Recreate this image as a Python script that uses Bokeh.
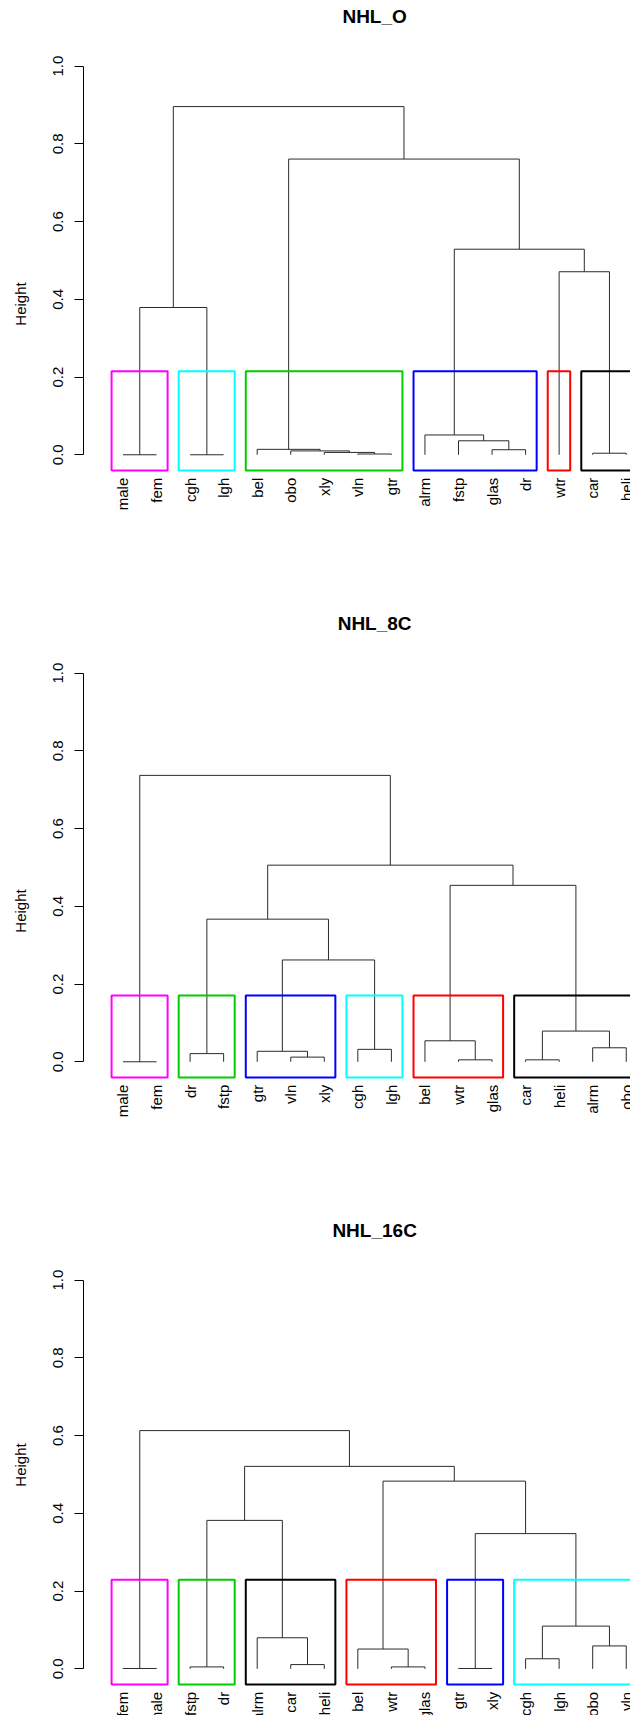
import math
from bokeh.plotting import figure
from bokeh.layouts import column
from bokeh.models import FixedTicker, NumeralTickFormatter, ColumnDataSource
from bokeh.core.properties import value
from bokeh.embed import file_html
from bokeh.resources import INLINE

# ---------------- data ----------------
y_ticks = [0.0, 0.2, 0.4, 0.6, 0.8, 1.0]
titles = ["NHL_O", "NHL_8C", "NHL_16C"]
n_clusters = 6

# NHL_O
leaves_O = ["male", "fem", "cgh", "lgh", "bel", "obo", "xly", "vln", "gtr",
            "alrm", "fstp", "glas", "dr", "wtr", "car", "heli"]
merge_a_O = [-1, -3, -8, -15, -7, -6, -12, -5, -11, -10, 1, -14, 10, 8, 11]
merge_b_O = [-2, -4, -9, -16, 3, 5, -13, 6, 7, 9, 2, 4, 12, 13, 14]
heights_O = [0.0, 0.0, 0.002, 0.004, 0.006, 0.010, 0.013, 0.014, 0.036, 0.051,
             0.379, 0.471, 0.529, 0.761, 0.896]
colors_O = ["#FF00FF", "#00FFFF", "#00CD00", "#0000FF", "#FF0000", "#000000"]

# NHL_8C
leaves_8C = ["male", "fem", "dr", "fstp", "gtr", "vln", "xly", "cgh", "lgh",
             "bel", "wtr", "glas", "car", "heli", "alrm", "obo"]
merge_a_8C = [-1, -11, -13, -6, -3, -5, -8, -15, -10, 3, 6, 5, 9, 12, 1]
merge_b_8C = [-2, -12, -14, -7, -4, 4, -9, -16, 2, 8, 7, 11, 10, 13, 14]
heights_8C = [0.0, 0.005, 0.005, 0.012, 0.021, 0.027, 0.032, 0.036, 0.054, 0.079,
              0.262, 0.367, 0.454, 0.506, 0.737]
colors_8C = ["#FF00FF", "#00CD00", "#0000FF", "#00FFFF", "#FF0000", "#000000"]

# NHL_16C
leaves_16C = ["fem", "male", "fstp", "dr", "alrm", "car", "heli", "bel", "wtr",
              "glas", "gtr", "xly", "cgh", "lgh", "obo", "vln"]
merge_a_16C = [-1, -11, -3, -9, -6, -13, -8, -15, -5, 6, 2, 3, 7, 12, 1]
merge_b_16C = [-2, -12, -4, -10, -7, -14, 4, -16, 5, 8, 10, 9, 11, 13, 14]
heights_16C = [0.001, 0.001, 0.005, 0.005, 0.011, 0.026, 0.051, 0.059, 0.080, 0.110,
               0.348, 0.382, 0.483, 0.521, 0.613]
colors_16C = ["#FF00FF", "#00CD00", "#000000", "#FF0000", "#0000FF", "#00FFFF"]

panels = [
    (titles[0], leaves_O, merge_a_O, merge_b_O, heights_O, colors_O),
    (titles[1], leaves_8C, merge_a_8C, merge_b_8C, heights_8C, colors_8C),
    (titles[2], leaves_16C, merge_a_16C, merge_b_16C, heights_16C, colors_16C),
]

FONT = "Liberation Sans"
BOX_BOTTOM = -0.0405


def build(title, leaves, ma, mb, hs, cols, fig_h, y0, y1):
    p = figure(width=630, height=fig_h, output_backend="svg", toolbar_location=None,
               x_range=(-0.177, 16.127), y_range=(y0, y1), x_axis_location=None,
               min_border_left=83, min_border_right=0, min_border_top=0,
               min_border_bottom=0)
    p.outline_line_color = None
    p.grid.visible = False
    p.background_fill_color = "white"
    p.border_fill_color = "white"

    # merge x positions and member sets
    mx, members = [], []
    def cx(c):
        return float(-c) if c < 0 else mx[c - 1]
    def ch(c):
        return 0.0 if c < 0 else hs[c - 1]
    def mem(c):
        return {-c} if c < 0 else members[c - 1]
    x0s, y0s, x1s, y1s = [], [], [], []
    for a, b, h in zip(ma, mb, hs):
        xa, xb = cx(a), cx(b)
        x0s += [xa, xb, xa]
        y0s += [ch(a), ch(b), h]
        x1s += [xa, xb, xb]
        y1s += [h, h, h]
        mx.append((xa + xb) / 2)
        members.append(mem(a) | mem(b))
    p.segment(x0=x0s, y0=y0s, x1=x1s, y1=y1s, line_color="#2b2b2b", line_width=1)

    # clusters (rect.hclust)
    nm = len(hs)
    nodes = [nm]  # root merge index (1-based)
    while len(nodes) < n_clusters:
        top = max((n for n in nodes if n > 0), key=lambda n: hs[n - 1])
        nodes.remove(top)
        nodes += [ma[top - 1], mb[top - 1]]
    clusters = sorted([sorted(mem(n)) for n in nodes], key=lambda m: m[0])
    sh = sorted(hs, reverse=True)
    cut = (sh[n_clusters - 2] + sh[n_clusters - 1]) / 2
    p.quad(left=[c[0] - 0.34 for c in clusters], right=[c[-1] + 0.33 for c in clusters],
           bottom=[BOX_BOTTOM] * len(clusters), top=[cut] * len(clusters),
           fill_color=None, line_color=cols, line_width=2)

    # leaf labels
    src = ColumnDataSource(dict(x=list(range(1, len(leaves) + 1)),
                                y=[-0.059] * len(leaves), t=leaves))
    p.text(x="x", y="y", text="t", source=src, angle=math.pi / 2,
           text_align="right", text_baseline="middle", text_font=value(FONT),
           text_font_size="15px", text_color="black")

    # title
    p.text(x=[8.5], y=[1.128], text=[title], text_align="center",
           text_baseline="alphabetic", text_font=value(FONT),
           text_font_size="19px", text_font_style="bold", text_color="black")

    ax = p.yaxis[0]
    ax.bounds = (0, 1)
    ax.ticker = FixedTicker(ticks=y_ticks)
    ax.formatter = NumeralTickFormatter(format="0.0")
    ax.minor_tick_line_color = None
    ax.major_tick_out = 9
    ax.major_tick_in = 0
    ax.major_label_orientation = "vertical"
    ax.major_label_standoff = 11
    ax.major_label_text_font = FONT
    ax.major_label_text_font_size = "15px"
    ax.major_label_text_color = "black"
    ax.axis_line_color = "black"
    ax.major_tick_line_color = "black"
    ax.axis_label = "Height"
    ax.axis_label_text_font = FONT
    ax.axis_label_text_font_size = "15px"
    ax.axis_label_text_font_style = "normal"
    ax.axis_label_text_color = "black"
    ax.axis_label_standoff = 22
    return p


figs = []
specs = [(607, -0.393, 1.169), (607, -0.393, 1.169), (501, -0.120, 1.169)]
for (t, lv, a, b, h, c), (fh, y0, y1) in zip(panels, specs):
    figs.append(build(t, lv, a, b, h, c, fh, y0, y1))

layout = column(*figs, spacing=0)
open("out.html", "w").write(file_html(layout, INLINE))
